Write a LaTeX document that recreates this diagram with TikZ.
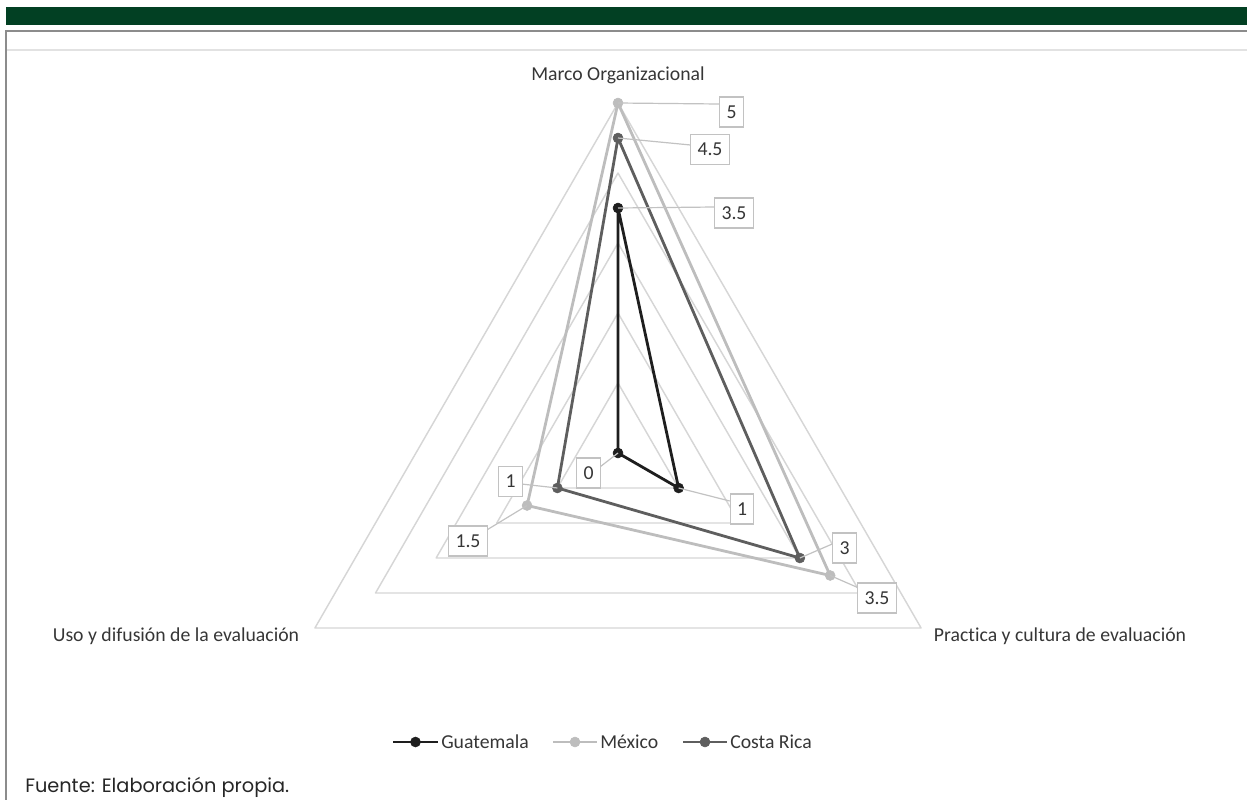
\documentclass[tikz,border=0pt]{standalone}
\usepackage{fontspec}
\setmainfont{Carlito}[Ligatures={NoCommon}]
\newfontfamily\notefont{Poppins}
\usetikzlibrary{calc}

\definecolor{bargreen}{HTML}{024023}
\definecolor{framegray}{HTML}{8C8C8C}
\definecolor{bandgray}{HTML}{E2E2E2}
\definecolor{gridgray}{HTML}{D6D6D6}
\definecolor{guat}{HTML}{1E1E1E}
\definecolor{mex}{HTML}{BDBDBD}
\definecolor{costa}{HTML}{5E5E5E}
\definecolor{txt}{HTML}{363636}
\definecolor{leadergray}{HTML}{C2C2C2}

\begin{document}
\begin{tikzpicture}[x=0.75pt, y=-0.75pt,
  font=\fontsize{14.8}{17}\selectfont,
  gridline/.style={draw=gridgray, line width=1.1pt, line join=round},
  series/.style={draw=#1, line width=2.1pt, line join=round},
  dot/.style={circle, inner sep=0pt, minimum size=7.5pt, fill=#1, draw=#1},
  vallabel/.style={draw=leadergray, fill=white, line width=0.9pt, text=txt,
    inner xsep=5pt, inner ysep=0pt, minimum height=22.5pt},
  leaderline/.style={draw=leadergray, line width=0.9pt},
  axislabel/.style={text=txt, inner sep=0pt},
  legendtext/.style={text=txt, anchor=west, inner sep=0pt}]

\useasboundingbox (0,0) rectangle (1247,800);

% header bar and page frame
\fill[bargreen] (6,7) rectangle (1247,25);
\draw[bandgray, line width=2pt] (7,50) -- (1247,50);
\draw[framegray, line width=1.3pt] (6,800) -- (6,31) -- (1247,31);

% radar axes: centre and the three vertices at value 5
\coordinate (O) at (618,453);
\coordinate (A) at (618,103);
\coordinate (B) at (921.1,628);
\coordinate (C) at (314.9,628);

% grid triangles at 1..5
\foreach \k in {1,...,5}
  \draw[gridline] ($(O)!\k/5!(A)$) -- ($(O)!\k/5!(B)$) -- ($(O)!\k/5!(C)$) -- cycle;

% axis titles
\node[axislabel] (tA) at (618,75) {Marco Organizacional};
\node[axislabel] (tB) at (1060,636) {Practica y cultura de evaluación};
\node[axislabel] (tC) at (176,636) {Uso y difusión de la evaluación};

% data points
\coordinate (g1) at ($(O)!0.7!(A)$);
\coordinate (g2) at ($(O)!0.2!(B)$);
\coordinate (g3) at (O);
\coordinate (m1) at (A);
\coordinate (m2) at ($(O)!0.7!(B)$);
\coordinate (m3) at ($(O)!0.3!(C)$);
\coordinate (c1) at ($(O)!0.9!(A)$);
\coordinate (c2) at ($(O)!0.6!(B)$);
\coordinate (c3) at ($(O)!0.2!(C)$);

% series
\draw[series=guat] (g1) -- (g2) -- (g3) -- cycle;
\draw[series=mex] (m1) -- (m2) -- (m3) -- cycle;
\draw[series=costa] (c1) -- (c2) -- (c3) -- cycle;

\foreach \p in {g1,g2,g3} \node[dot=guat] at (\p) {};
\foreach \p in {m1,m2,m3} \node[dot=mex] at (\p) {};
\foreach \p in {c1,c2,c3} \node[dot=costa] at (\p) {};

% value labels
\node[vallabel] (lm1) at (731.5,112) {5};
\node[vallabel] (lc1) at (710,149.5) {4.5};
\node[vallabel] (lg1) at (734,213) {3.5};
\node[vallabel] (lg3) at (588.5,473) {0};
\node[vallabel] (lc3) at (510.5,481.5) {1};
\node[vallabel] (lm3) at (468,541) {1.5};
\node[vallabel] (lg2) at (742,509) {1};
\node[vallabel] (lc2) at (844.5,548) {3};
\node[vallabel] (lm2) at (877,598) {3.5};

\draw[leaderline] (m1) -- ([yshift=6pt]lm1.west);
\draw[leaderline] (c1) -- ([yshift=3.4pt]lc1.west);
\draw[leaderline] (g1) -- ([yshift=4.5pt]lg1.west);
\draw[leaderline] (g3) -- ([yshift=5pt]lg3.east);
\draw[leaderline] (c3) -- ([yshift=-2pt]lc3.east);
\draw[leaderline] (m3) -- ([yshift=-3pt]lm3.north east);
\draw[leaderline] (g2) -- ([yshift=6pt]lg2.west);
\draw[leaderline] (c2) -- ([yshift=3pt]lc2.west);
\draw[leaderline] (m2) -- ([yshift=8pt]lm2.west);

% legend
\coordinate (k1a) at (393,742); \coordinate (k1b) at (438,742);
\coordinate (k2a) at (553,742); \coordinate (k2b) at (597,742);
\coordinate (k3a) at (683,742); \coordinate (k3b) at (727,742);
\draw[series=guat] (k1a) -- (k1b);
\draw[series=mex] (k2a) -- (k2b);
\draw[series=costa] (k3a) -- (k3b);
\node[dot=guat] (kd1) at ($(k1a)!0.5!(k1b)$) {};
\node[dot=mex] (kd2) at ($(k2a)!0.5!(k2b)$) {};
\node[dot=costa] (kd3) at ($(k3a)!0.5!(k3b)$) {};
\node[legendtext] (kt1) at (441,742) {Guatemala};
\node[legendtext] (kt2) at (600,742) {México};
\node[legendtext] (kt3) at (730,742) {Costa Rica};

% source note
\node[anchor=west, inner sep=0pt, text=black!85, font=\notefont\fontsize{14.5}{17}\selectfont]
  (src) at (25,787) {Fuente: Elaboración propia.};
\end{tikzpicture}
\end{document}
